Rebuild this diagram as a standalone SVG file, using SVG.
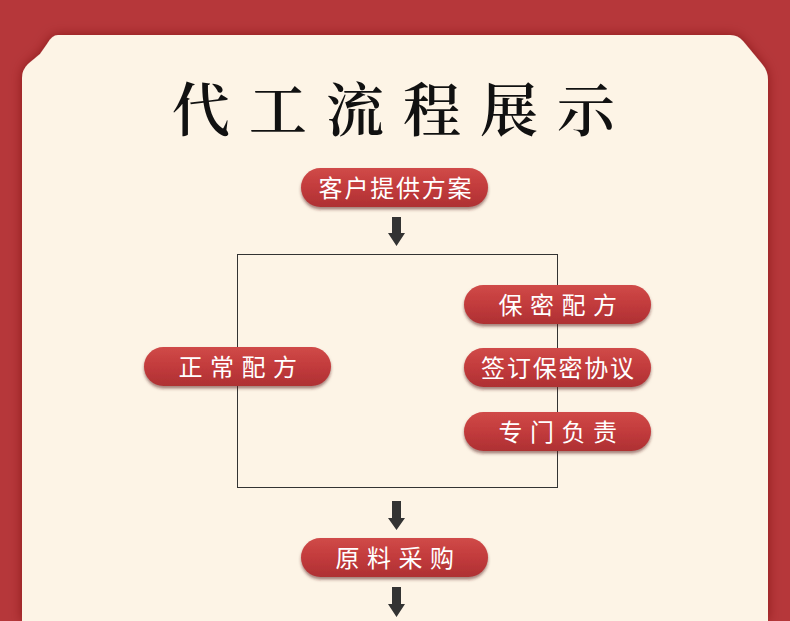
<svg xmlns="http://www.w3.org/2000/svg" width="790" height="621" viewBox="0 0 790 621">
  <defs>
    <linearGradient id="btn" x1="0" y1="0" x2="0" y2="1">
      <stop offset="0" stop-color="#D04A48"/>
      <stop offset="0.5" stop-color="#C23B3C"/>
      <stop offset="1" stop-color="#AE3033"/>
    </linearGradient>
    <filter id="panelShadow" x="-10%" y="-10%" width="120%" height="120%">
      <feDropShadow dx="0" dy="0" stdDeviation="6" flood-color="#6A1518" flood-opacity="0.55"/>
    </filter>
    <filter id="btnShadow" x="-10%" y="-20%" width="120%" height="160%">
      <feDropShadow dx="0" dy="2.5" stdDeviation="1.5" flood-color="#5A1A1A" flood-opacity="0.55"/>
    </filter>
    <style>
      .btn { fill: url(#btn); filter: url(#btnShadow); }
      .btxt { fill: #FFFFFF; font-family: "Noto Sans CJK SC", "Noto Sans", sans-serif; font-size: 24px; text-anchor: middle; }
      .arr { fill: #333333; }
    </style>
  </defs>
  <rect x="0" y="0" width="790" height="621" fill="#B6373A"/>
  <path d="M58,35 L730,35 Q738,35 743,41 L762,64 Q768,71 768,80 L768,621 L22,621 L22,78 Q22,70 28,64 L40,54 L47,44 Q52,35 58,35 Z" fill="#FDF4E6" filter="url(#panelShadow)"/>
  <text x="403" y="131" text-anchor="middle" font-family="Noto Serif CJK SC, Noto Sans CJK SC, serif" font-size="58" font-weight="600" letter-spacing="19" fill="#111111">代工流程展示</text>

  <g id="connectors">
    <rect x="237.5" y="254.5" width="320" height="233" fill="none" stroke="#333333" stroke-width="1"/>
    <path class="arr" d="M392,217 L401,217 L401,233 L405,233 L396.5,246 L388,233 L392,233 Z"/>
    <path class="arr" d="M392,501 L401,501 L401,518 L405,518 L396.5,530 L388,518 L392,518 Z"/>
    <path class="arr" d="M392,587 L401,587 L401,604 L405,604 L396.5,617 L388,604 L392,604 Z"/>
  </g>

  <g id="n1">
    <rect class="btn" x="301" y="168" width="187" height="39" rx="19.5"/>
    <text class="btxt" x="396" y="197" letter-spacing="1.8">客户提供方案</text>
  </g>
  <g id="n2">
    <rect class="btn" x="144" y="347" width="187" height="39" rx="19.5"/>
    <text class="btxt" x="241.5" y="376" letter-spacing="7.5">正常配方</text>
  </g>
  <g id="n3">
    <rect class="btn" x="464" y="285" width="187" height="39" rx="19.5"/>
    <text class="btxt" x="561.5" y="314" letter-spacing="7.5">保密配方</text>
  </g>
  <g id="n4">
    <rect class="btn" x="464" y="348" width="187" height="39" rx="19.5"/>
    <text class="btxt" x="558.5" y="377" letter-spacing="1.8">签订保密协议</text>
  </g>
  <g id="n5">
    <rect class="btn" x="464" y="412" width="187" height="39" rx="19.5"/>
    <text class="btxt" x="561.5" y="441" letter-spacing="7.5">专门负责</text>
  </g>
  <g id="n6">
    <rect class="btn" x="301" y="538" width="187" height="39" rx="19.5"/>
    <text class="btxt" x="398.5" y="567" letter-spacing="7.5">原料采购</text>
  </g>
</svg>
